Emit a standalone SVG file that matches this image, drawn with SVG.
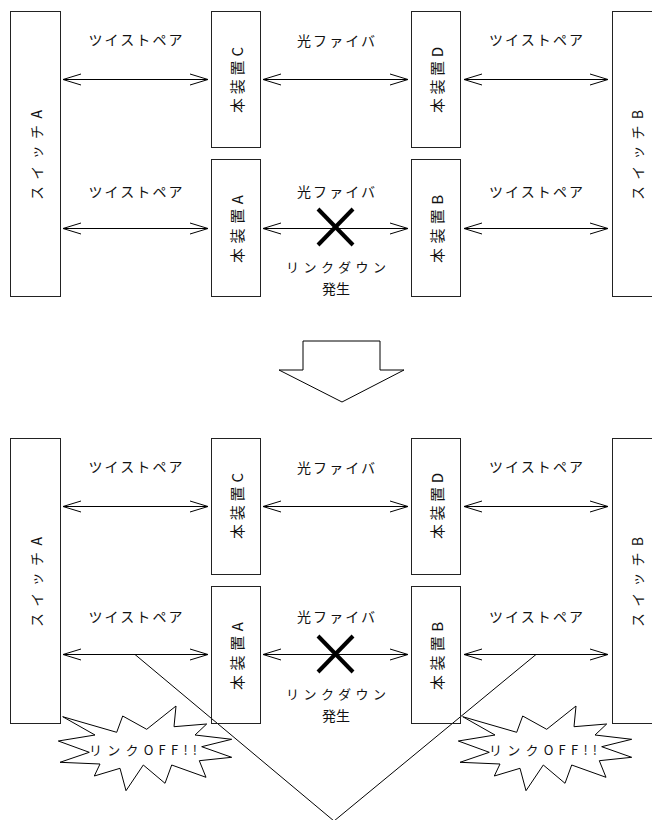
<svg xmlns="http://www.w3.org/2000/svg" width="652" height="820" viewBox="0 0 652 820">
<style>
.box{fill:none;stroke:#222;stroke-width:1}
.ln{fill:none;stroke:#000;stroke-width:1}
.arr{fill:none;stroke:#000;stroke-width:1;marker-start:url(#ah);marker-end:url(#ah)}
.x{stroke:#000;stroke-width:4}
.t{font-family:"Noto Sans CJK JP","Noto Sans",sans-serif;font-size:14px;fill:#111;text-anchor:middle;dominant-baseline:central}
.v{font-size:15px}
.sw{font-size:14px}
.ld{font-size:13px}
.burst{fill:#fff;stroke:#000;stroke-width:1;stroke-linejoin:miter}
.bt{font-size:13px}
</style>
<defs>
<marker id="ah" markerWidth="20" markerHeight="12" refX="18" refY="6" orient="auto-start-reverse" markerUnits="userSpaceOnUse" viewBox="0 0 20 12" overflow="visible">
<path d="M0,0.5 L18,6 L0,11.5" fill="none" stroke="#000" stroke-width="1"/>
</marker>
<polygon id="burstShape" points="62.7,716.7 116.7,732.3 122.7,716 146.7,729.3 176,706 174,726.7 206.7,724 195,735 231.7,739.3 201.7,746.7 231.7,757.3 199.3,760.7 206,777.3 171.7,765 165,783.3 143.3,765 126,790.7 120,768.3 94.3,776 100,764 60,762.3 89.3,752.3 58.3,741 95,735"/>
</defs>
<rect width="652" height="820" fill="#fff"/>

<g id="connectors">
<line class="arr" x1="63" y1="79.5" x2="208" y2="79.5"/>
<line class="arr" x1="263" y1="79.5" x2="408" y2="79.5"/>
<line class="arr" x1="464" y1="79.5" x2="608" y2="79.5"/>
<line class="arr" x1="63" y1="228.5" x2="208" y2="228.5"/>
<line class="arr" x1="263" y1="228.5" x2="408" y2="228.5"/>
<line class="arr" x1="464" y1="228.5" x2="608" y2="228.5"/>
<line class="arr" x1="63" y1="506.5" x2="208" y2="506.5"/>
<line class="arr" x1="263" y1="506.5" x2="408" y2="506.5"/>
<line class="arr" x1="464" y1="506.5" x2="608" y2="506.5"/>
<line class="arr" x1="63" y1="654.5" x2="208" y2="654.5"/>
<line class="arr" x1="263" y1="654.5" x2="408" y2="654.5"/>
<line class="arr" x1="464" y1="654.5" x2="608" y2="654.5"/>
<polyline class="ln" points="135,654.5 334,821 536,654.5"/>
</g>

<g id="labels">
<text class="t" x="135.5" y="39" textLength="94" lengthAdjust="spacing">ツイストペア</text>
<text class="t" x="336" y="40" textLength="78" lengthAdjust="spacing">光ファイバ</text>
<text class="t" x="536" y="39" textLength="94" lengthAdjust="spacing">ツイストペア</text>
<text class="t" x="135.5" y="191" textLength="94" lengthAdjust="spacing">ツイストペア</text>
<text class="t" x="336" y="191" textLength="78" lengthAdjust="spacing">光ファイバ</text>
<text class="t" x="536" y="191" textLength="94" lengthAdjust="spacing">ツイストペア</text>
<text class="t ld" x="336" y="266" textLength="100" lengthAdjust="spacing">リンクダウン</text>
<text class="t" x="336" y="287.5">発生</text>
<text class="t" x="135.5" y="466" textLength="94" lengthAdjust="spacing">ツイストペア</text>
<text class="t" x="336" y="467" textLength="78" lengthAdjust="spacing">光ファイバ</text>
<text class="t" x="536" y="466" textLength="94" lengthAdjust="spacing">ツイストペア</text>
<text class="t" x="135.5" y="616" textLength="94" lengthAdjust="spacing">ツイストペア</text>
<text class="t" x="336" y="616" textLength="78" lengthAdjust="spacing">光ファイバ</text>
<text class="t" x="536" y="616" textLength="94" lengthAdjust="spacing">ツイストペア</text>
<text class="t ld" x="336" y="693" textLength="100" lengthAdjust="spacing">リンクダウン</text>
<text class="t" x="336" y="714.5">発生</text>
</g>

<g id="linkdown-top">
<line class="x" x1="318" y1="209" x2="353" y2="245"/>
<line class="x" x1="353" y1="209" x2="318" y2="245"/>
</g>
<g id="linkdown-bottom">
<line class="x" x1="318" y1="636" x2="353" y2="672"/>
<line class="x" x1="353" y1="636" x2="318" y2="672"/>
</g>

<g id="switchA-top"><rect class="box" x="10.5" y="11.5" width="50" height="285"/><text class="t sw" transform="translate(35.5,155) rotate(-90)" textLength="90" lengthAdjust="spacing">スイッチA</text></g>
<g id="devC-top"><rect class="box" x="211.5" y="11.5" width="49" height="136"/><text class="t v" transform="translate(236,80) rotate(-90)" textLength="66" lengthAdjust="spacing">本装置C</text></g>
<g id="devA-top"><rect class="box" x="211.5" y="159.5" width="49" height="137"/><text class="t v" transform="translate(236,229) rotate(-90)" textLength="68" lengthAdjust="spacing">本装置A</text></g>
<g id="devD-top"><rect class="box" x="411.5" y="11.5" width="49" height="136"/><text class="t v" transform="translate(436,80) rotate(-90)" textLength="66" lengthAdjust="spacing">本装置D</text></g>
<g id="devB-top"><rect class="box" x="411.5" y="159.5" width="49" height="137"/><text class="t v" transform="translate(436,229) rotate(-90)" textLength="68" lengthAdjust="spacing">本装置B</text></g>
<g id="switchB-top"><rect class="box" x="612.5" y="11.5" width="60" height="285"/><text class="t sw" transform="translate(637,155) rotate(-90)" textLength="90" lengthAdjust="spacing">スイッチB</text></g>

<g id="down-arrow"><polygon class="ln" points="303,370 303,341 380,341 380,370 404,370 342,402 279,370" stroke="#333"/></g>

<g id="switchA-bottom"><rect class="box" x="10.5" y="438.5" width="50" height="285"/><text class="t sw" transform="translate(35.5,582) rotate(-90)" textLength="90" lengthAdjust="spacing">スイッチA</text></g>
<g id="devC-bottom"><rect class="box" x="211.5" y="438.5" width="49" height="136"/><text class="t v" transform="translate(236,506) rotate(-90)" textLength="66" lengthAdjust="spacing">本装置C</text></g>
<g id="devA-bottom"><rect class="box" x="211.5" y="586.5" width="49" height="137"/><text class="t v" transform="translate(236,656) rotate(-90)" textLength="68" lengthAdjust="spacing">本装置A</text></g>
<g id="devD-bottom"><rect class="box" x="411.5" y="438.5" width="49" height="136"/><text class="t v" transform="translate(436,506) rotate(-90)" textLength="66" lengthAdjust="spacing">本装置D</text></g>
<g id="devB-bottom"><rect class="box" x="411.5" y="586.5" width="49" height="137"/><text class="t v" transform="translate(436,656) rotate(-90)" textLength="68" lengthAdjust="spacing">本装置B</text></g>
<g id="switchB-bottom"><rect class="box" x="612.5" y="438.5" width="60" height="285"/><text class="t sw" transform="translate(637,582) rotate(-90)" textLength="90" lengthAdjust="spacing">スイッチB</text></g>

<g id="burst-left"><use href="#burstShape" class="burst"/><text class="t bt" x="143" y="749" textLength="108" lengthAdjust="spacing">リンクOFF!!</text></g>
<g id="burst-right"><use href="#burstShape" class="burst" transform="translate(400,0)"/><text class="t bt" x="543" y="749" textLength="108" lengthAdjust="spacing">リンクOFF!!</text></g>
</svg>
